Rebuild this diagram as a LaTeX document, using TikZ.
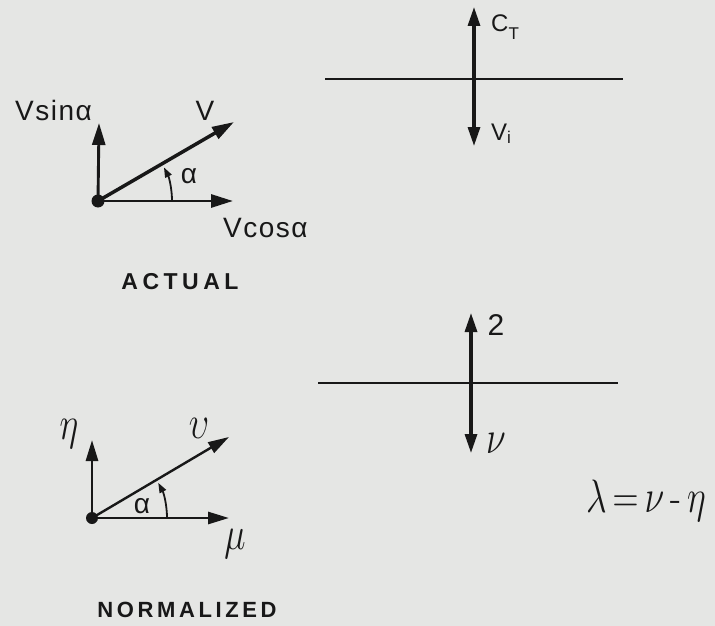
\documentclass[tikz,border=0pt]{standalone}
\usepackage{fix-cm}
\usepackage{fontspec}
\setsansfont{Liberation Sans}
\usetikzlibrary{arrows.meta}
\definecolor{inkc}{RGB}{24,24,24}
\definecolor{bgc}{RGB}{229,230,228}
\begin{document}
\begin{tikzpicture}[x=1pt,y=-1pt,
  vecthick/.style={draw=inkc, line width=3.5pt, -{Triangle[length=22pt,width=13pt]}},
  vecthin/.style={draw=inkc, line width=2.8pt, -{Triangle[length=21pt,width=12pt]}},
  vvec/.style={draw=inkc, line width=3.2pt, -{Triangle[length=19pt,width=12pt]}},
  hline/.style={draw=inkc, line width=2.3pt},
  anglearc/.style={draw=inkc, line width=1.8pt, -{Triangle[length=10pt,width=7pt]}},
  lab/.style={inner sep=0pt, text=inkc, font=\fontsize{28}{30}\selectfont\sffamily},
  smlab/.style={inner sep=0pt, text=inkc, font=\fontsize{24}{26}\selectfont\sffamily},
  mlab/.style={inner sep=0pt, text=inkc, font=\fontsize{36}{40}\selectfont},
  title/.style={inner sep=0pt, text=inkc, font=\bfseries\sffamily}
]
\fill[bgc] (0,0) rectangle (715,626);
\useasboundingbox (0,0) rectangle (715,626);

% ---------- ACTUAL: left vector diagram ----------
\coordinate (O1) at (98,201);
\coordinate (T1y) at (99,123);
\coordinate (T1x) at (233,201);
\coordinate (T1v) at (234,122);
\draw[vecthick, line width=2.9pt] (O1) -- (T1y);
\draw[vecthick, line width=2.9pt] (O1) -- (T1x);
\draw[vecthick] (O1) -- (T1v);
\fill[inkc] (O1) circle (6.5);
\draw[anglearc] (172,201) arc[start angle=0, end angle=-27, radius=74];
\node[lab, anchor=base east] (vsin) at (92,120) {V\kern1.5pt s\kern1.5pt i\kern1.5pt n\kern1.5pt α};
\node[lab, anchor=base] (vlab) at (205,120) {V};
\node[lab, anchor=center] (a1) at (189,176) {α};
\node[lab, anchor=base west] (vcos) at (223,237) {V\kern1.5pt c\kern1.5pt o\kern1.5pt s\kern1.5pt α};
\node[title, font=\fontsize{23}{25}\selectfont\bfseries\sffamily] (actual) at (180,282)
  {A\kern4.5pt C\kern4.5pt T\kern4.5pt U\kern4.5pt A\kern4.5pt L};

% ---------- ACTUAL: right diagram ----------
\coordinate (H1l) at (325,79);
\coordinate (H1r) at (623,79);
\coordinate (C1) at (474,79);
\coordinate (U1) at (474,7);
\coordinate (D1) at (474,146);
\draw[hline] (H1l) -- (H1r);
\draw[vvec] (C1) -- (U1);
\draw[vvec] (C1) -- (D1);
\node[smlab, anchor=base west] (ct) at (491,32)
  {C\raisebox{-8pt}{\fontsize{17}{18}\selectfont T}};
\node[smlab, anchor=base west] (vi) at (491,140)
  {V\raisebox{-3pt}{\fontsize{17}{18}\selectfont i}};

% ---------- NORMALIZED: left vector diagram ----------
\coordinate (O2) at (92,518);
\coordinate (T2y) at (92,440);
\coordinate (T2x) at (229,518);
\coordinate (T2v) at (229,437);
\draw[vecthin] (O2) -- (T2y);
\draw[vecthin] (O2) -- (T2x);
\draw[vecthin, line width=2.4pt] (O2) -- (T2v);
\fill[inkc] (O2) circle (6);
\draw[anglearc] (167,518) arc[start angle=0, end angle=-28, radius=75];
\node[mlab] (eta) at (69,434) {\scalebox{1}[1.3]{$\eta$}};
\node[mlab] (ups) at (199,428) {\scalebox{1}[1.3]{$\upsilon$}};
\node[lab] (a2) at (142,506) {α};
\node[mlab] (mu) at (235,544) {\scalebox{1}[1.3]{$\mu$}};
\node[title, font=\fontsize{22}{24}\selectfont\bfseries\sffamily] (normalized) at (187,610)
  {N\kern3.6pt O\kern3.6pt R\kern3.6pt M\kern3.6pt A\kern3.6pt L\kern3.6pt I\kern3.6pt Z\kern3.6pt E\kern3.6pt D};

% ---------- NORMALIZED: right diagram ----------
\coordinate (H2l) at (318,383);
\coordinate (H2r) at (618,383);
\coordinate (C2) at (471,383);
\coordinate (U2) at (471,313);
\coordinate (D2) at (471,453);
\draw[hline] (H2l) -- (H2r);
\draw[vvec] (C2) -- (U2);
\draw[vvec] (C2) -- (D2);
\node[lab, font=\fontsize{30}{32}\selectfont\sffamily] (two) at (496,325) {2};
\node[mlab] (nu) at (496,443) {\scalebox{1}[1.3]{$\nu$}};
\node[mlab] (lam) at (646,501) {\scalebox{1}[1.3]{$\lambda\,{=}\,\nu$\,-\,$\eta$}};
\end{tikzpicture}
\end{document}
